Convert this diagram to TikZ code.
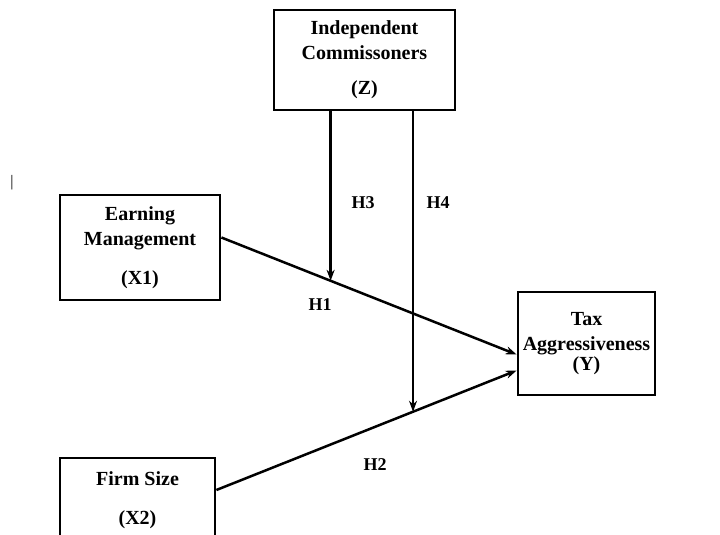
\documentclass[tikz,border=0pt]{standalone}
\usepackage{fontspec}
\setmainfont{Liberation Serif}
\usepackage{tikz}
\usetikzlibrary{arrows.meta, positioning, calc}
\tikzset{
	varbox/.style ={rectangle, draw=black, line width=2.8pt, align=center, inner sep=0pt, font=\bfseries\fontsize{20}{25}\selectfont},
	path/.style   ={-{Stealth[length=11pt, width=8pt]}, line width=2.5pt},
	hlabel/.style ={font=\bfseries\fontsize{18}{20}\selectfont},
}

\begin{document}
\begin{tikzpicture}[x=1pt, y=-1pt]
	\useasboundingbox (0,0) rectangle (720,535);
	% variables
	\node[varbox, minimum width=181pt, minimum height=100pt] (z) at (364.5,60) {Independent\\Commissoners\\[10pt](Z)};
	\node[varbox, minimum width=160pt, minimum height=105pt] (em) at (140,247.5) {Earning\\Management\\[14pt](X1)};
	\node[varbox, minimum width=137pt, minimum height=103pt] (tax) at (586.5,343.5) {Tax\\Aggressiveness\\[-5pt](Y)};
	\node[varbox, minimum width=155pt, minimum height=84pt] (fs) at (137.5,500) {Firm Size\\[14pt](X2)};
	\node[font=\fontsize{16}{18}\selectfont] (cur) at (12,183) {|};
	% direct effects
	\coordinate (h1s) at ([yshift=10pt]em.east);
	\coordinate (h1e) at ([yshift=-11pt]tax.west);
	\coordinate (h2s) at ([yshift=10pt]fs.east);
	\coordinate (h2e) at ([yshift=-27pt]tax.west);
	\draw[path] (h1s) -- (h1e) coordinate[pos=0.37] (m1);
	\draw[path] (h2s) -- (h2e) coordinate[pos=0.655] (m2);
	% moderating effects
	\draw[path] (z.south -| m1) -- (m1);
	\draw[path] (z.south -| m2) -- (m2);
	% labels
	\node[hlabel] (h1) at (320,305) {H1};
	\node[hlabel] (h2) at (375,465) {H2};
	\node[hlabel] (h3) at (363,203) {H3};
	\node[hlabel] (h4) at (438,203) {H4};
\end{tikzpicture}
\end{document}
